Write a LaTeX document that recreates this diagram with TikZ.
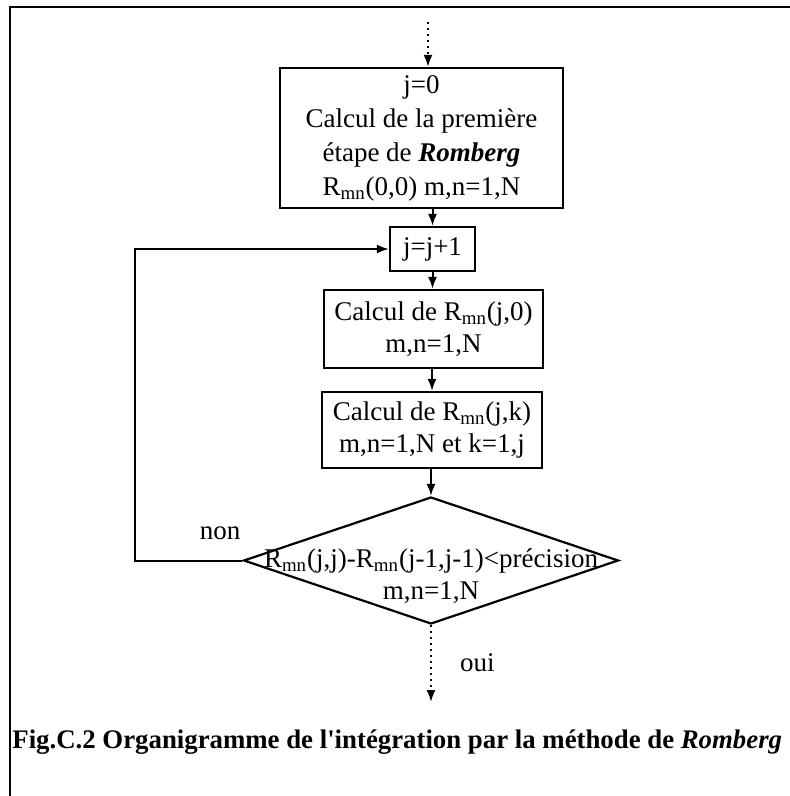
\documentclass[tikz,border=0pt]{standalone}
\usepackage{fontspec}
\setmainfont{Liberation Serif}
\usetikzlibrary{arrows.meta,shapes.geometric}
\begin{document}
\begin{tikzpicture}[x=0.5pt,y=-0.5pt,
  box/.style={draw, line width=1.1pt, inner sep=0pt, align=center},
  flow/.style={line width=1pt, -{Latex[length=6pt,width=4.5pt]}},
  dotflow/.style={flow, dotted},
  every node/.style={font=\fontsize{13.5}{16}\selectfont}]
\useasboundingbox (0,0) rectangle (790,796);
\draw[line width=1pt] (10,796)--(10,7)--(790,7);
\node[box, minimum width=141.5pt, minimum height=70pt, font=\fontsize{13.5}{17}\selectfont] (init) at (421.5,138)
  {j=0\\Calcul de la première\\étape de \textbf{\textit{Romberg}}\\R\textsubscript{mn}(0,0) m,n=1,N};
\node[box, minimum width=42.5pt, minimum height=22pt] (jinc) at (432.5,249) {j=j+1};
\node[box, minimum width=109.5pt, minimum height=39pt] (calcz) at (433.5,329)
  {Calcul de R\textsubscript{mn}(j,0)\\m,n=1,N};
\node[box, minimum width=110pt, minimum height=38pt] (calck) at (432,430)
  {Calcul de R\textsubscript{mn}(j,k)\\m,n=1,N et k=1,j};
\node[diamond, draw, line width=1.1pt, inner sep=0pt, minimum width=187.5pt, minimum height=63.5pt] (test) at (431,560.5) {};
\node[align=center] (testtxt) at (431,576) {R\textsubscript{mn}(j,j)-R\textsubscript{mn}(j-1,j-1)<précision\\m,n=1,N};
\coordinate (start) at (428,22);
\coordinate (end) at (431,702);
\coordinate (loop) at (135,560.5);
\draw[dotflow] (start) -- (init.north -| start);
\draw[flow] (init.south -| jinc.north) -- (jinc.north);
\draw[flow] (jinc.south) -- (jinc.south |- calcz.north);
\draw[flow] (calcz.south -| calck.north) -- (calck.north);
\draw[flow] (calck.south -| test.north) -- (test.north);
\draw[flow] (test.west) -- (loop) |- (jinc.west);
\draw[dotflow] (test.south) -- (end);
\node (non) at (220,533) {non};
\node[anchor=west] (oui) at (453,663) {oui};
\node[anchor=west, inner sep=0pt, font=\fontsize{13.4}{16}\selectfont\bfseries] (caption) at (12,742)
  {Fig.C.2 Organigramme de l\textquotesingle intégration par la méthode de \textit{Romberg}};
\end{tikzpicture}
\end{document}
